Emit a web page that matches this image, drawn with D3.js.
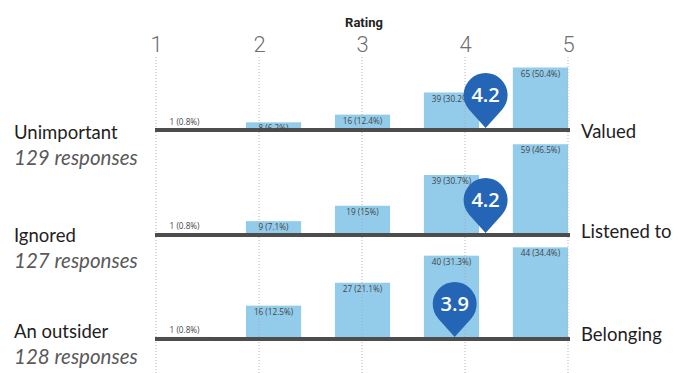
<!DOCTYPE html>
<html>
<head>
<meta charset="utf-8">
<script src="https://cdn.jsdelivr.net/npm/d3@7/dist/d3.min.js"></script>
<style>
  html, body { margin: 0; padding: 0; background: #ffffff; }
  svg { display: block; }
</style>
</head>
<body>
<svg id="chart" width="682" height="373"></svg>
<script>
// Rating scale and survey rows
const ratings = [1, 2, 3, 4, 5];
const leftLabels = ["Unimportant", "Ignored", "An outsider"];
const rightLabels = ["Valued", "Listened to", "Belonging"];
const responses = [129, 127, 128];
const averages = [4.2, 4.2, 3.9];

// Response counts per rating (1..5)
const countsValued = [1, 8, 16, 39, 65];
const countsListened = [1, 9, 19, 39, 59];
const countsBelonging = [1, 16, 27, 40, 44];

// Share of responses per rating
const pctValued = ["0.8%", "6.2%", "12.4%", "30.2%", "50.4%"];
const pctListened = ["0.8%", "7.1%", "15%", "30.7%", "46.5%"];
const pctBelonging = ["0.8%", "12.5%", "21.1%", "31.3%", "34.4%"];

// Upper end of each row's count scale
const rowScaleMax = [104, 65, 48];

const rows = [
  { left: leftLabels[0], right: rightLabels[0], n: responses[0], avg: averages[0], counts: countsValued, pct: pctValued, max: rowScaleMax[0] },
  { left: leftLabels[1], right: rightLabels[1], n: responses[1], avg: averages[1], counts: countsListened, pct: pctListened, max: rowScaleMax[1] },
  { left: leftLabels[2], right: rightLabels[2], n: responses[2], avg: averages[2], counts: countsBelonging, pct: pctBelonging, max: rowScaleMax[2] }
];

// Layout
const x0 = 156, x1 = 568;
const rowBase = [130, 235, 339];
const leftTextY = [139, 242, 338];
const rightTextY = [138, 238, 341];
const rowHeight = 100;

const svg = d3.select("#chart");

const x = d3.scaleLinear().domain([1, 5]).range([x0, x1]);
const xb = d3.scaleBand().domain(ratings).range([x0 + 1, x1]).paddingInner(0.38).paddingOuter(0);

// Title
svg.append("text")
  .attr("x", 364).attr("y", 27)
  .attr("text-anchor", "middle")
  .attr("font-family", "Roboto, sans-serif")
  .attr("font-weight", 700)
  .attr("font-size", 13)
  .attr("fill", "#222")
  .text("Rating");

// Rating axis along the top
const axis = svg.append("g")
  .attr("transform", "translate(0,52)")
  .call(d3.axisTop(x).tickValues(ratings).tickFormat(d3.format("d")).tickSize(0).tickPadding(0));
axis.select(".domain").remove();
axis.selectAll("text")
  .attr("font-family", "Roboto, sans-serif")
  .attr("font-weight", 300)
  .attr("font-size", 22)
  .attr("fill", "#6f6f6f")
  .attr("dy", 0);

const pinColor = "#2466b5";
const barColor = "#93cceb";

rows.forEach((row, i) => {
  const base = rowBase[i];
  const y = d3.scaleLinear().domain([0, row.max]).range([base, base - rowHeight]);
  const g = svg.append("g");

  // Bars
  g.selectAll("rect.bar")
    .data(ratings)
    .join("rect")
    .attr("class", "bar")
    .attr("x", d => xb(d))
    .attr("width", xb.bandwidth())
    .attr("y", (d, k) => y(row.counts[k]))
    .attr("height", (d, k) => base - y(row.counts[k]))
    .attr("fill", barColor);
});

// Dotted vertical gridlines at each rating
svg.append("g")
  .selectAll("line")
  .data(ratings)
  .join("line")
  .attr("x1", d => x(d)).attr("x2", d => x(d))
  .attr("y1", 57).attr("y2", 373)
  .attr("stroke", "#a8a8a8")
  .attr("stroke-width", 1)
  .attr("stroke-dasharray", "1,2")
  .attr("opacity", 0.85);

rows.forEach((row, i) => {
  const base = rowBase[i];
  const y = d3.scaleLinear().domain([0, row.max]).range([base, base - rowHeight]);
  const g = svg.append("g");

  // Row baseline
  g.append("line")
    .attr("x1", x0 - 1).attr("x2", x1 + 2)
    .attr("y1", base).attr("y2", base)
    .attr("stroke", "#4d4d4d")
    .attr("stroke-width", 4);

  // Count labels
  g.selectAll("text.val")
    .data(ratings)
    .join("text")
    .attr("class", "val")
    .attr("x", d => xb(d) + xb.bandwidth() / 2)
    .attr("y", (d, k) => {
      const top = y(row.counts[k]);
      return (base - top) < 4 ? top - 4 : top + 9;
    })
    .attr("text-anchor", "middle")
    .attr("font-family", "'Open Sans', sans-serif")
    .attr("font-size", 8.2)
    .attr("fill", "#444")
    .text((d, k) => `${row.counts[k]} (${row.pct[k]})`);

  // Average marker pin
  const cx = x(row.avg);
  const tipY = base - 2;
  const r = 22, dist = 33;
  const cy = tipY - dist;
  const beta = Math.acos(r / dist);
  const lx = cx - r * Math.sin(beta);
  const ty = cy + r * Math.cos(beta);
  const pin = d3.path();
  pin.moveTo(lx, ty);
  pin.arc(cx, cy, r, Math.PI / 2 + beta, Math.PI / 2 - beta + 2 * Math.PI, false);
  pin.lineTo(cx, tipY);
  pin.closePath();
  g.append("path")
    .attr("d", pin.toString())
    .attr("fill", pinColor);
  g.append("text")
    .attr("x", cx).attr("y", cy + 7)
    .attr("text-anchor", "middle")
    .attr("font-family", "'Open Sans', sans-serif")
    .attr("font-weight", 600)
    .attr("font-size", 20)
    .attr("fill", "#fff")
    .text(d3.format(".1f")(row.avg));

  // Left-hand descriptor and response count
  svg.append("text")
    .attr("x", 14).attr("y", leftTextY[i])
    .attr("font-family", "Lato, sans-serif")
    .attr("font-size", 18.5)
    .attr("fill", "#1e1e1e")
    .text(row.left);
  svg.append("text")
    .attr("x", 14).attr("y", leftTextY[i] + 26)
    .attr("font-family", "Lato, sans-serif")
    .attr("font-style", "italic")
    .attr("font-size", 20.5)
    .attr("fill", "#5a5a5a")
    .text(`${row.n} responses`);

  // Right-hand descriptor
  svg.append("text")
    .attr("x", 581).attr("y", rightTextY[i])
    .attr("font-family", "Lato, sans-serif")
    .attr("font-size", 18.5)
    .attr("fill", "#1e1e1e")
    .text(row.right);
});
</script>
</body>
</html>
